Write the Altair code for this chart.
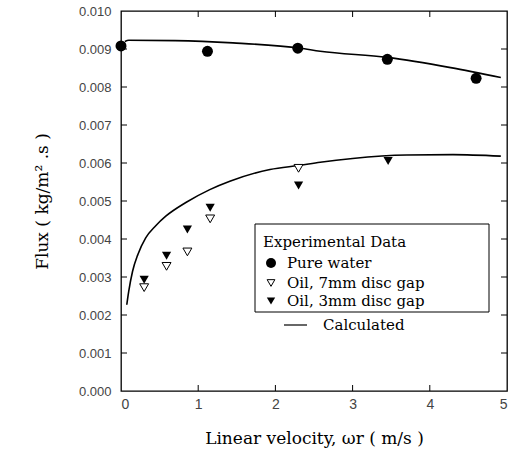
import altair as alt
import pandas as pd

# ---- data ----
water_x = [0.0, 1.12, 2.29, 3.45, 4.60]
water_y = [0.00908, 0.00894, 0.00902, 0.00873, 0.00823]

oil7_x = [0.30, 0.59, 0.86, 1.155, 2.30]
oil7_y = [0.00272, 0.00328, 0.00366, 0.00453, 0.00586]

oil3_x = [0.30, 0.59, 0.86, 1.155, 2.30, 3.46]
oil3_y = [0.00293, 0.00356, 0.00425, 0.00482, 0.00541, 0.00605]

calc_hi_x = [0.05, 0.10, 0.70, 1.45, 2.32, 2.58, 3.45, 4.27, 4.92]
calc_hi_y = [0.00920, 0.00923, 0.00922, 0.00916, 0.00902, 0.00894, 0.00878, 0.00851, 0.00825]

calc_lo_x = [0.075, 0.10, 0.15, 0.22, 0.32, 0.45, 0.58, 0.84, 1.15, 1.41, 1.93, 2.32, 2.58, 3.0, 3.7, 4.3, 4.92]
calc_lo_y = [0.00227, 0.00262, 0.00315, 0.00360, 0.00403, 0.00435, 0.00460, 0.00496, 0.00530, 0.00552,
             0.00583, 0.00594, 0.00602, 0.00612, 0.00621, 0.00622, 0.00618]

x_ticks = [1, 2, 3, 4]
y_ticks = [0.001, 0.002, 0.003, 0.004, 0.005, 0.006, 0.007, 0.008, 0.009]
x_labels = [0, 1, 2, 3, 4, 5]
y_labels = [0.000, 0.001, 0.002, 0.003, 0.004, 0.005, 0.006, 0.007, 0.008, 0.009, 0.010]

legend_items = ["Pure water", "Oil, 7mm disc gap", "Oil, 3mm disc gap"]

W, H = 386, 380
SERIF = "DejaVu Serif"
SANS = "Liberation Sans"

xs = alt.Scale(domain=[0, 5], nice=False, zero=False)
ys = alt.Scale(domain=[0, 0.010], nice=False, zero=False)

x_axis = alt.Axis(
    values=x_labels, format="d", grid=False, ticks=False, domain=False,
    labelFont=SANS, labelFontSize=14, labelColor="#444", labelPadding=6, labelOverlap=False,
    title="Linear velocity, \u03c9r ( m/s )", titleFont=SERIF, titleFontSize=17,
    titleFontWeight="normal", titlePadding=19, titleColor="black")
y_axis = alt.Axis(
    values=y_labels, format=".3f", grid=False, ticks=False, domain=False,
    labelFont=SANS, labelFontSize=13, labelColor="#444", labelPadding=10, labelOverlap=False,
    title="Flux ( kg/m\u00b2 .s )", titleFont=SERIF, titleFontSize=17,
    titleFontWeight="normal", titlePadding=27, titleColor="black")


def X(field="x"):
    return alt.X(f"{field}:Q", scale=xs, axis=x_axis)


def Y(field="y"):
    return alt.Y(f"{field}:Q", scale=ys, axis=y_axis)


calc = pd.DataFrame(
    [{"x": a, "y": b, "s": "hi", "o": i} for i, (a, b) in enumerate(zip(calc_hi_x, calc_hi_y))]
    + [{"x": a, "y": b, "s": "lo", "o": i} for i, (a, b) in enumerate(zip(calc_lo_x, calc_lo_y))]
)
water = pd.DataFrame({"x": water_x, "y": water_y})
oil7 = pd.DataFrame({"x": oil7_x, "y": oil7_y})
oil3 = pd.DataFrame({"x": oil3_x, "y": oil3_y})

lines = alt.Chart(calc).mark_line(color="black", strokeWidth=1.6, interpolate="monotone").encode(
    x=X(), y=Y(), detail="s:N", order="o:Q")

pts_water = alt.Chart(water).mark_point(shape="circle", filled=True, color="black", size=120, opacity=1).encode(
    x=X(), y=Y())
pts_oil3 = alt.Chart(oil3).mark_point(shape="triangle-down", filled=True, color="black", size=85, opacity=1).encode(
    x=X(), y=Y())
pts_oil7 = alt.Chart(oil7).mark_point(shape="triangle-down", filled=True, fill="white", stroke="black",
                                      strokeWidth=1, size=80, opacity=1).encode(
    x=X(), y=Y())

# inward ticks on all four sides
xt = pd.DataFrame({"x": x_ticks})
yt = pd.DataFrame({"y": y_ticks})
tick_b = alt.Chart(xt).mark_rule(color="black", strokeWidth=1).encode(
    x=X(), y=alt.value(H), y2=alt.value(H - 6))
tick_t = alt.Chart(xt).mark_rule(color="black", strokeWidth=1).encode(
    x=X(), y=alt.value(0), y2=alt.value(6))
tick_l = alt.Chart(yt).mark_rule(color="black", strokeWidth=1).encode(
    y=Y(), x=alt.value(0), x2=alt.value(6))
tick_r = alt.Chart(yt).mark_rule(color="black", strokeWidth=1).encode(
    y=Y(), x=alt.value(W), x2=alt.value(W - 6))

# manual legend (box positions relative to plot origin at 121, 11)
L0, T0 = 255 - 121, 224 - 11
FS = 15
box = alt.Chart(pd.DataFrame({"a": [0]})).mark_rect(fill="white", stroke="black", strokeWidth=1).encode(
    x=alt.value(L0), x2=alt.value(489 - 121), y=alt.value(T0), y2=alt.value(312 - 11))
leg_title = alt.Chart(pd.DataFrame({"t": ["Experimental Data"]})).mark_text(
    font=SERIF, fontSize=FS, align="left", baseline="middle", color="black").encode(
    text="t:N", x=alt.value(L0 + 8), y=alt.value(242 - 11))
leg_df = pd.DataFrame({"t": legend_items, "yy": [263 - 11, 283 - 11, 301 - 11]})
leg_text = alt.Chart(leg_df).mark_text(
    font=SERIF, fontSize=FS, align="left", baseline="middle", color="black").encode(
    text="t:N", x=alt.value(L0 + 32), y=alt.Y("yy:Q", scale=None))
lm_water = alt.Chart(leg_df.iloc[[0]]).mark_point(shape="circle", filled=True, color="black", size=100, opacity=1).encode(
    x=alt.value(L0 + 16), y=alt.Y("yy:Q", scale=None))
lm_oil7 = alt.Chart(leg_df.iloc[[1]]).mark_point(shape="triangle-down", filled=True, fill="white", stroke="black",
                                                 strokeWidth=1, size=60, opacity=1).encode(
    x=alt.value(L0 + 16), y=alt.Y("yy:Q", scale=None))
lm_oil3 = alt.Chart(leg_df.iloc[[2]]).mark_point(shape="triangle-down", filled=True, color="black", size=70, opacity=1).encode(
    x=alt.value(L0 + 16), y=alt.Y("yy:Q", scale=None))
lm_line = alt.Chart(pd.DataFrame({"a": [0]})).mark_rule(color="black", strokeWidth=1.2).encode(
    x=alt.value(284 - 121), x2=alt.value(307 - 121), y=alt.value(325 - 11))
lm_calc = alt.Chart(pd.DataFrame({"t": ["Calculated"]})).mark_text(
    font=SERIF, fontSize=FS, align="left", baseline="middle", color="black").encode(
    text="t:N", x=alt.value(323 - 121), y=alt.value(325 - 11))

chart = alt.layer(
    lines, tick_b, tick_t, tick_l, tick_r,
    pts_oil7, pts_oil3, pts_water,
    box, leg_title, leg_text, lm_water, lm_oil7, lm_oil3, lm_line, lm_calc
).properties(
    width=W, height=H,
    autosize=alt.AutoSizeParams(type="none"),
    padding={"left": 121, "top": 11, "right": 10, "bottom": 64},
    background="white",
).configure_view(stroke="black", strokeWidth=1.3)

chart.save("out.html", embed_options={"renderer": "svg", "actions": False})
